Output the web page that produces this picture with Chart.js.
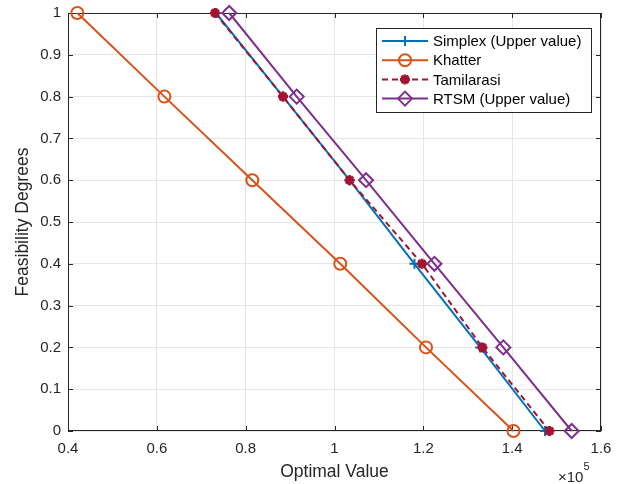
<!DOCTYPE html>
<html>
<head>
<meta charset="utf-8">
<script src="https://cdn.jsdelivr.net/npm/chart.js@4"></script>
<style>
html, body { margin: 0; padding: 0; background: #fff; }
</style>
</head>
<body>
<canvas id="chart" width="617" height="484"></canvas>
<script>
var degrees = [1, 0.8, 0.6, 0.4, 0.2, 0];
var simplex = [73300, 88400, 103400, 118000, 132800, 147400];
var khatter = [42100, 61700, 81500, 101300, 120600, 140300];
var tamilarasi = [73100, 88400, 103400, 119700, 133300, 148400];
var rtsm = [76300, 91500, 107100, 122500, 138000, 153400];
var seriesNames = ['Simplex (Upper value)', 'Khatter', 'Tamilarasi', 'RTSM (Upper value)'];

var axisColor = '#262626';
var fontFamily = '"Liberation Sans", Arial, Helvetica, sans-serif';

function toPoints(xs) {
    return xs.map(function (x, i) { return {x: x, y: degrees[i]}; });
}

function makeSet(name, xs, color, style, extra) {
    var ds = {
        label: name,
        data: toPoints(xs),
        showLine: true,
        borderColor: color,
        backgroundColor: 'rgba(0,0,0,0)',
        borderWidth: 2,
        pointStyle: style,
        pointRadius: 6,
        pointBorderWidth: 2,
        pointBorderColor: color,
        pointBackgroundColor: 'rgba(0,0,0,0)',
        clip: false
    };
    for (var k in extra) ds[k] = extra[k];
    return ds;
}

var datasets = [
    makeSet(seriesNames[0], simplex, '#0072BD', 'cross', {order: 4, pointRadius: 5}),
    makeSet(seriesNames[1], khatter, '#D95319', 'circle', {order: 3, pointRadius: 6}),
    makeSet(seriesNames[2], tamilarasi, '#A2142F', 'star', {order: 2, pointRadius: 5, pointBorderWidth: 3, borderDash: [6, 4]}),
    makeSet(seriesNames[3], rtsm, '#7E2F8E', 'rectRot', {order: 1, pointRadius: 7})
];

var boxPlugin = {
    id: 'box',
    beforeDatasetsDraw: function (chart) {
        var a = chart.chartArea;
        var ctx = chart.ctx;
        var xs = chart.scales.x, ys = chart.scales.y;
        ctx.save();
        ctx.strokeStyle = axisColor;
        ctx.lineWidth = 1;
        ctx.strokeRect(a.left + 0.5, a.top + 0.5, a.right - a.left - 1, a.bottom - a.top - 1);
        ctx.beginPath();
        xs.ticks.forEach(function (t) {
            var px = Math.round(xs.getPixelForValue(t.value)) + 0.5;
            ctx.moveTo(px, a.bottom); ctx.lineTo(px, a.bottom - 5);
            ctx.moveTo(px, a.top); ctx.lineTo(px, a.top + 5);
        });
        ys.ticks.forEach(function (t) {
            var py = Math.round(ys.getPixelForValue(t.value)) + 0.5;
            ctx.moveTo(a.left, py); ctx.lineTo(a.left + 5, py);
            ctx.moveTo(a.right, py); ctx.lineTo(a.right - 5, py);
        });
        ctx.stroke();
        ctx.restore();
    },
    afterDraw: function (chart) {
        var ctx = chart.ctx;
        ctx.save();
        // exponent label
        ctx.fillStyle = axisColor;
        ctx.textBaseline = 'middle';
        ctx.textAlign = 'left';
        ctx.font = '15px ' + fontFamily;
        ctx.fillText('\u00d710', 558, 478);
        var w = ctx.measureText('\u00d710').width;
        ctx.font = '11px ' + fontFamily;
        ctx.fillText('5', 558 + w, 467);

        // legend
        var lx = 376, ly = 28, lw = 215, lh = 84;
        ctx.fillStyle = '#fff';
        ctx.fillRect(lx, ly, lw, lh);
        ctx.strokeStyle = axisColor;
        ctx.lineWidth = 1;
        ctx.strokeRect(lx + 0.5, ly + 0.5, lw, lh);
        chart.data.datasets.forEach(function (ds, i) {
            var y = ly + 13 + i * 19.2;
            ctx.save();
            ctx.strokeStyle = ds.borderColor;
            ctx.lineWidth = ds.borderWidth;
            ctx.setLineDash(ds.borderDash || []);
            ctx.beginPath();
            ctx.moveTo(382, y); ctx.lineTo(428, y);
            ctx.stroke();
            ctx.setLineDash([]);
            ctx.strokeStyle = ds.pointBorderColor;
            ctx.fillStyle = ds.pointBackgroundColor;
            ctx.lineWidth = ds.pointBorderWidth;
            Chart.helpers.drawPoint(ctx, {
                pointStyle: ds.pointStyle,
                radius: ds.pointRadius,
                borderWidth: ds.pointBorderWidth,
                rotation: 0
            }, 405, y);
            ctx.restore();
            ctx.fillStyle = '#000';
            ctx.font = '15px ' + fontFamily;
            ctx.textBaseline = 'middle';
            ctx.fillText(ds.label, 433, y + 1);
        });
        ctx.restore();
    }
};

new Chart(document.getElementById('chart'), {
    type: 'scatter',
    data: {datasets: datasets},
    plugins: [boxPlugin],
    options: {
        responsive: false,
        animation: false,
        layout: {padding: {top: 13, right: 16, left: 0, bottom: 0}},
        plugins: {legend: {display: false}, tooltip: {enabled: false}},
        scales: {
            x: {
                type: 'linear',
                min: 40000,
                max: 160000,
                afterFit: function (scale) {
                    scale.height = 53;
                    scale.paddingLeft = 0;
                    scale.paddingRight = 0;
                },
                border: {display: false},
                grid: {color: '#e6e6e6', drawTicks: false},
                ticks: {
                    stepSize: 20000,
                    padding: 9,
                    color: axisColor,
                    font: {family: fontFamily, size: 15},
                    maxRotation: 0,
                    callback: function (v) { return String(Math.round(v / 1e4) / 10); }
                },
                title: {
                    display: true,
                    text: 'Optimal Value',
                    color: axisColor,
                    font: {family: fontFamily, size: 17.5},
                    padding: {top: 0, bottom: 1.5}
                }
            },
            y: {
                type: 'linear',
                min: 0,
                max: 1,
                afterFit: function (scale) {
                    scale.width = 68;
                    scale.paddingTop = 0;
                    scale.paddingBottom = 0;
                },
                border: {display: false},
                grid: {color: '#e6e6e6', drawTicks: false},
                ticks: {
                    stepSize: 0.1,
                    padding: 7,
                    color: axisColor,
                    font: {family: fontFamily, size: 15},
                    callback: function (v) { return String(Math.round(v * 10) / 10); }
                },
                title: {
                    display: true,
                    text: 'Feasibility Degrees',
                    color: axisColor,
                    font: {family: fontFamily, size: 17.5},
                    padding: {top: 12.5, bottom: 0}
                }
            }
        }
    }
});
</script>
</body>
</html>
